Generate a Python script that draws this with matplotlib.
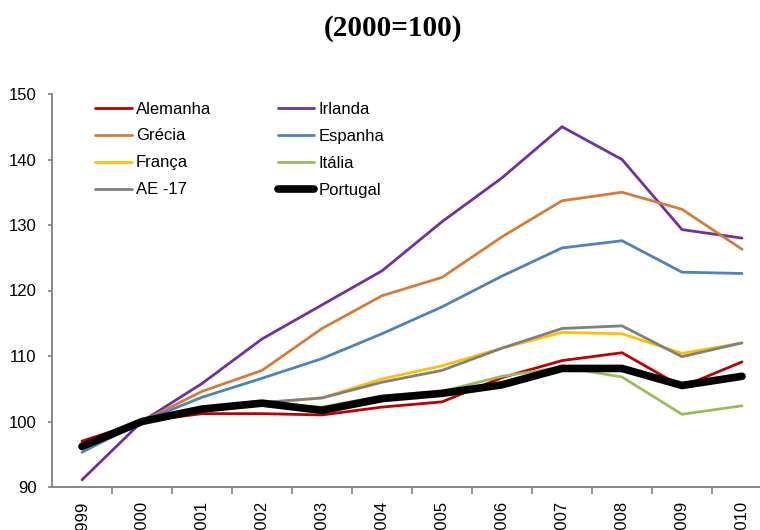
import numpy as np
import matplotlib as mpl
import matplotlib.pyplot as plt

plt.switch_backend('Agg')

mpl.rcParams['font.family'] = ['Liberation Sans', 'DejaVu Sans']

# Data (index 2000=100)
years = ['1999', '2000', '2001', '2002', '2003', '2004', '2005',
         '2006', '2007', '2008', '2009', '2010']
alemanha = [97.0, 100, 101.2, 101.2, 101.0, 102.2, 103.0, 106.7, 109.3, 110.5, 105.3, 109.1]
irlanda = [91.1, 100, 105.8, 112.6, 117.8, 123.0, 130.5, 137.2, 145.0, 140.0, 129.3, 128.0]
grecia = [95.8, 100, 104.6, 107.8, 114.2, 119.2, 122.0, 128.2, 133.7, 135.0, 132.4, 126.3]
espanha = [95.3, 100, 103.7, 106.6, 109.6, 113.4, 117.5, 122.2, 126.5, 127.6, 122.8, 122.6]
franca = [96.2, 100, 101.9, 102.8, 103.6, 106.5, 108.5, 111.2, 113.6, 113.4, 110.4, 112.0]
italia = [96.0, 100, 101.9, 102.6, 102.2, 103.9, 104.6, 106.9, 108.3, 106.8, 101.1, 102.4]
ae17 = [96.3, 100, 102.0, 102.9, 103.6, 106.0, 107.8, 111.2, 114.2, 114.6, 109.9, 112.0]
portugal = [96.2, 100, 101.9, 102.8, 101.7, 103.5, 104.3, 105.6, 108.1, 108.1, 105.5, 106.9]

fig = plt.figure(figsize=(7.6, 5.3), dpi=100)
# axes runs past the right edge, like the cropped original
ax = fig.add_axes([52 / 760, 1 - 487 / 530, 720 / 760, 393 / 530])

x = np.arange(len(years))
series = [
    ('Alemanha', alemanha, '#C00000', 2.0),
    ('Irlanda', irlanda, '#7030A0', 2.0),
    ('Grécia', grecia, '#D27D3A', 2.0),
    ('Espanha', espanha, '#4F81BD', 2.0),
    ('França', franca, '#FFC000', 2.0),
    ('Itália', italia, '#9BBB59', 2.0),
    ('AE -17', ae17, '#808080', 2.0),
    ('Portugal', portugal, '#000000', 5.5),
]
handles = {}
for name, vals, col, lw in series:
    handles[name], = ax.plot(x, vals, color=col, lw=lw, label=name,
                             solid_capstyle='round', solid_joinstyle='miter')

ax.set_ylim(90, 150)
ax.set_yticks(np.arange(90, 151, 10))
ax.set_xlim(-0.5, len(years) - 0.5)

# ticks between categories, labels at the categories
ax.set_xticks(np.arange(len(years)) + 0.5)
ax.set_xticklabels([])
ax.set_xticks(x, minor=True)
ax.set_xticklabels(years, minor=True, rotation=90, va='top', fontsize=12)
ax.tick_params(axis='x', which='minor', length=0, pad=10)
ax.tick_params(axis='x', which='major', length=5, width=1.2, color='#808080', direction='out')
ax.tick_params(axis='y', length=3, width=1.2, color='#808080', direction='out', pad=8, labelsize=12)

for s in ['top', 'right']:
    ax.spines[s].set_visible(False)
for s in ['left', 'bottom']:
    ax.spines[s].set_color('#808080')
    ax.spines[s].set_linewidth(1.3)

order = ['Alemanha', 'Grécia', 'França', 'AE -17', 'Irlanda', 'Espanha', 'Itália', 'Portugal']
leg = ax.legend([handles[n] for n in order], order, ncol=2, frameon=False,
                loc='upper left', bbox_to_anchor=(95 / 760, 1 - 101.5 / 530),
                bbox_transform=fig.transFigure, fontsize=12,
                borderpad=0, borderaxespad=0, handlelength=2.2,
                handletextpad=0.25, labelspacing=0.72, columnspacing=4.0)

fig.text(393 / 760, 1 - 29 / 530, '(2000=100)', ha='center', va='center',
         fontsize=21, fontweight='bold', family='Liberation Serif')

fig.savefig('out.png', dpi=100)
